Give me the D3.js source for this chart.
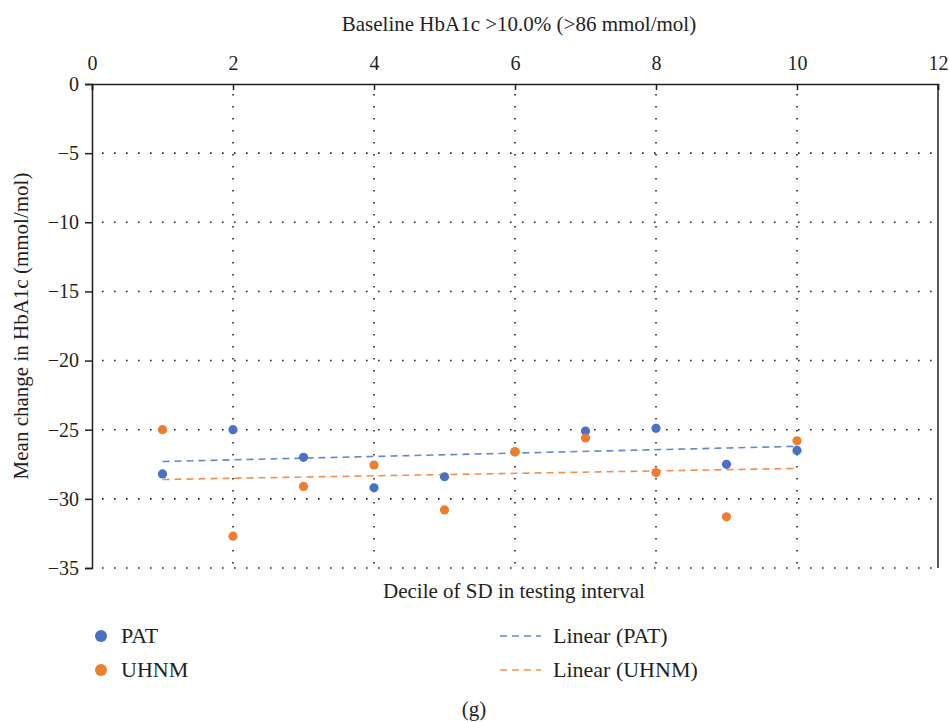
<!DOCTYPE html>
<html lang="en">
<head>
<meta charset="UTF-8">
<title>HbA1c decile chart</title>
<script src="https://cdn.jsdelivr.net/npm/d3@7"></script>
<style>
    body { margin: 0; background: #fff; }
    svg text { font-family: "Liberation Serif", "Times New Roman", serif; fill: #231f20; }
</style>
</head>
<body>
<svg id="chart" width="949" height="722"></svg>
<script>
    // values
    var deciles = [1, 2, 3, 4, 5, 6, 7, 8, 9, 10];
    var patValues = [-28.2, -25.0, -27.0, -29.2, -28.4, -26.6, -25.1, -24.9, -27.5, -26.5];
    var uhnmValues = [-25.0, -32.7, -29.1, -27.55, -30.8, -26.6, -25.6, -28.1, -31.3, -25.8];
    // trend line ends at decile 1 and 10
    var trendX = [1, 10];
    var patTrend = [-27.3, -26.2];
    var uhnmTrend = [-28.6, -27.8];
    var xTicks = [0, 2, 4, 6, 8, 10, 12];
    var yTicks = [0, -5, -10, -15, -20, -25, -30, -35];

    var blue = "#4a72c4", orange = "#ee7d2f";

    var svg = d3.select("#chart");
    var margin = { top: 84, left: 92, right: 938, bottom: 568 };

    var x = d3.scaleLinear().domain([0, 12]).range([margin.left, margin.right]);
    var y = d3.scaleLinear().domain([0, -35]).range([margin.top, margin.bottom]);

    //dotted grid
    var grid = svg.append("g").attr("stroke", "#231f20").attr("stroke-width", 1.6)
        .attr("stroke-dasharray", "1.6,10.4");
    grid.selectAll(".h").data(yTicks.slice(1)).enter().append("line")
        .attr("x1", x(0) + 10).attr("x2", x(12))
        .attr("y1", d => y(d)).attr("y2", d => y(d));
    grid.selectAll(".v").data(xTicks.slice(1, -1)).enter().append("line")
        .attr("x1", d => x(d)).attr("x2", d => x(d))
        .attr("y1", y(0) + 10).attr("y2", y(-35));

    // right border
    svg.append("line").attr("x1", x(12)).attr("x2", x(12))
        .attr("y1", y(0)).attr("y2", y(-35))
        .attr("stroke", "#231f20").attr("stroke-width", 1.5);

    //top axis
    var topAxis = d3.axisTop(x).tickValues(xTicks).tickSize(-6).tickPadding(14);
    var gTop = svg.append("g").attr("transform", "translate(0," + y(0) + ")").call(topAxis);
    gTop.select(".domain").attr("stroke", "#231f20").attr("stroke-width", 1.5);
    gTop.selectAll(".tick line").attr("stroke", "#231f20").attr("stroke-width", 1.5);
    gTop.selectAll("text").attr("font-size", 20).attr("font-family", "Liberation Serif");

    //left axis
    var leftAxis = d3.axisLeft(y).tickValues(yTicks).tickSize(7).tickPadding(6)
        .tickFormat(d => d < 0 ? "\u2212" + Math.abs(d) : d);
    var gLeft = svg.append("g").attr("transform", "translate(" + x(0) + ",0)").call(leftAxis);
    gLeft.select(".domain").attr("stroke", "#231f20").attr("stroke-width", 1.5);
    gLeft.selectAll(".tick line").attr("stroke", "#231f20").attr("stroke-width", 1.5);
    gLeft.selectAll("text").attr("font-size", 20).attr("font-family", "Liberation Serif");

    // trend lines
    var line = d3.line().x(d => x(d[0])).y(d => y(d[1]));
    svg.append("path").attr("d", line(d3.zip(trendX, patTrend)))
        .attr("fill", "none").attr("stroke", blue).attr("stroke-width", 1.6)
        .attr("stroke-opacity", 0.85).attr("stroke-dasharray", "7,5");
    svg.append("path").attr("d", line(d3.zip(trendX, uhnmTrend)))
        .attr("fill", "none").attr("stroke", orange).attr("stroke-width", 1.6)
        .attr("stroke-opacity", 0.85).attr("stroke-dasharray", "7,5");

    // points
    svg.append("g").selectAll("circle").data(d3.zip(deciles, patValues)).enter()
        .append("circle").attr("cx", d => x(d[0])).attr("cy", d => y(d[1]))
        .attr("r", 4.6).attr("fill", blue);
    svg.append("g").selectAll("circle").data(d3.zip(deciles, uhnmValues)).enter()
        .append("circle").attr("cx", d => x(d[0])).attr("cy", d => y(d[1]))
        .attr("r", 4.6).attr("fill", orange);

    // titles
    svg.append("text").attr("x", 519).attr("y", 31).attr("text-anchor", "middle")
        .attr("font-size", 21).text("Baseline HbA1c >10.0% (>86 mmol/mol)");
    svg.append("text").attr("x", 514).attr("y", 598).attr("text-anchor", "middle")
        .attr("font-size", 21).text("Decile of SD in testing interval");
    svg.append("text").attr("transform", "translate(28,326) rotate(-90)")
        .attr("text-anchor", "middle").attr("font-size", 21)
        .text("Mean change in HbA1c (mmol/mol)");
    svg.append("text").attr("x", 474).attr("y", 716).attr("text-anchor", "middle")
        .attr("font-size", 21).text("(g)");

    //legend
    var legendItems = [
        { name: "PAT", color: blue, kind: "dot", lx: 101, ly: 636 },
        { name: "UHNM", color: orange, kind: "dot", lx: 101, ly: 670 },
        { name: "Linear (PAT)", color: blue, kind: "dash", lx: 500, ly: 636 },
        { name: "Linear (UHNM)", color: orange, kind: "dash", lx: 500, ly: 670 }
    ];
    var legend = svg.append("g").selectAll("g").data(legendItems).enter().append("g")
        .attr("transform", d => "translate(" + d.lx + "," + d.ly + ")");
    legend.filter(d => d.kind == "dot").append("circle").attr("r", 6).attr("fill", d => d.color);
    legend.filter(d => d.kind == "dash").append("line").attr("x1", 0).attr("x2", 41)
        .attr("stroke", d => d.color).attr("stroke-width", 1.6).attr("stroke-opacity", 0.85)
        .attr("stroke-dasharray", "7,5");
    legend.append("text").attr("x", d => d.kind == "dot" ? 20 : 53).attr("y", 7)
        .attr("font-size", 22).text(d => d.name);
</script>
</body>
</html>
